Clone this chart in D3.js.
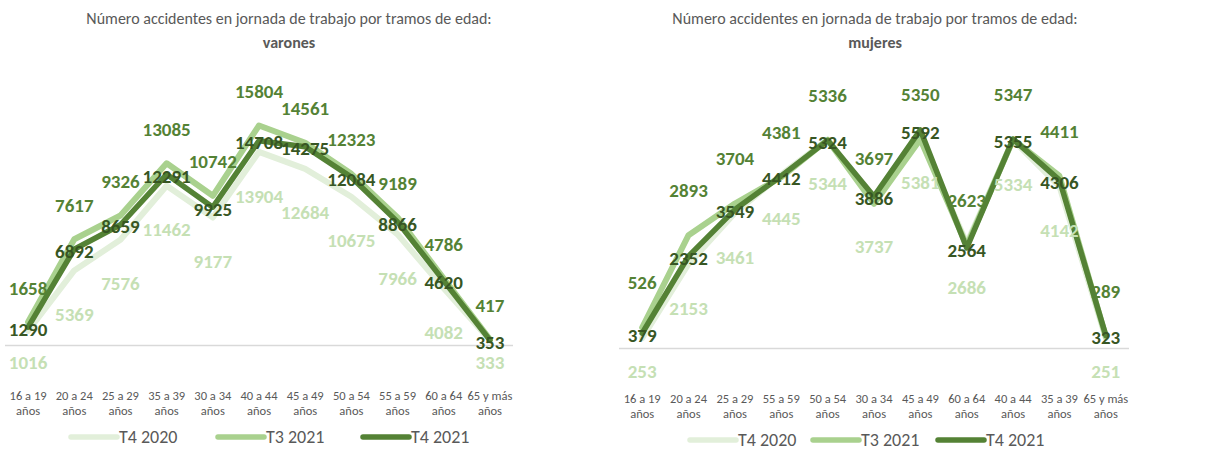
<!DOCTYPE html>
<html>
<head>
<meta charset="utf-8">
<script src="https://cdn.jsdelivr.net/npm/d3@7"></script>
<style>
  html, body { margin: 0; padding: 0; background: #ffffff; }
  svg { display: block; }
  text { font-family: Carlito, Calibri, Lato, "Noto Sans", sans-serif; }
</style>
</head>
<body>
<svg id="chart" width="1219" height="450"></svg>
<script>
// Series names
const seriesNames = ["T4 2020", "T3 2021", "T4 2021"];

// Men: age groups and accident counts
const categoriesVarones = ["16 a 19 años", "20 a 24 años", "25 a 29 años", "35 a 39 años", "30 a 34 años",
  "40 a 44 años", "45 a 49 años", "50 a 54 años", "55 a 59 años", "60 a 64 años", "65 y más años"];
const varonesT4_2020 = [1016, 5369, 7576, 11462, 9177, 13904, 12684, 10675, 7966, 4082, 333];
const varonesT3_2021 = [1658, 7617, 9326, 13085, 10742, 15804, 14561, 12323, 9189, 4786, 417];
const varonesT4_2021 = [1290, 6892, 8659, 12291, 9925, 14708, 14275, 12084, 8866, 4620, 353];

// Women: age groups and accident counts
const categoriesMujeres = ["16 a 19 años", "20 a 24 años", "25 a 29 años", "55 a 59 años", "50 a 54 años",
  "30 a 34 años", "45 a 49 años", "60 a 64 años", "40 a 44 años", "35 a 39 años", "65 y más años"];
const mujeresT4_2020 = [253, 2153, 3461, 4445, 5344, 3737, 5381, 2686, 5334, 4142, 251];
const mujeresT3_2021 = [526, 2893, 3704, 4381, 5336, 3697, 5350, 2623, 5347, 4411, 289];
const mujeresT4_2021 = [379, 2352, 3549, 4412, 5324, 3886, 5592, 2564, 5355, 4306, 323];

// Per-series styling: line colour, width, label colour and label placement
const seriesStyle = [
  { line: "#e2efda", width: 6,   label: "#c5e0b4", place: "below" },
  { line: "#a9d18e", width: 6,   label: "#548235", place: "above" },
  { line: "#548235", width: 5.5, label: "#375623", place: "center" }
];

const svg = d3.select("#chart");

function drawChart(cfg) {
  const g = svg.append("g");
  const x = d3.scaleBand().domain(cfg.categories).range([cfg.x0, cfg.x1]).padding(0);
  const y = d3.scaleLinear().domain([0, cfg.yMax]).range([cfg.y0, cfg.yTop]);
  const cx = c => x(c) + x.bandwidth() / 2;

  // Title
  g.append("text").attr("x", cfg.titleX).attr("y", 24).attr("text-anchor", "middle")
    .attr("font-size", 16).attr("fill", "#595959")
    .text("Número accidentes en jornada de trabajo por tramos de edad:");
  g.append("text").attr("x", cfg.titleX).attr("y", 48).attr("text-anchor", "middle")
    .attr("font-size", 16).attr("font-weight", "bold").attr("fill", "#595959")
    .text(cfg.subtitle);

  // Category axis line
  g.append("line").attr("x1", cfg.x0).attr("x2", cfg.x1)
    .attr("y1", cfg.y0 + 0.5).attr("y2", cfg.y0 + 0.5)
    .attr("stroke", "#d9d9d9").attr("stroke-width", 1.5);

  // Category labels (two lines each)
  const axis = d3.axisBottom(x).tickSize(0).tickPadding(0);
  const ax = g.append("g").attr("transform", `translate(0,${cfg.tickY})`).call(axis);
  ax.select(".domain").remove();
  ax.selectAll(".tick text").each(function (d) {
    const t = d3.select(this);
    const parts = d.split(" ");
    const last = parts.pop();
    t.text(null).attr("fill", "#595959").attr("font-size", 12.5).attr("dy", 0);
    t.append("tspan").attr("x", 0).attr("dy", 0).text(parts.join(" "));
    t.append("tspan").attr("x", 0).attr("dy", 15).text(last);
  });

  // Lines
  const line = d3.line().x((d, i) => cx(cfg.categories[i])).y(d => y(d));
  cfg.series.forEach((vals, s) => {
    g.append("path").datum(vals).attr("d", line)
      .attr("fill", "none").attr("stroke", seriesStyle[s].line)
      .attr("stroke-width", seriesStyle[s].width)
      .attr("stroke-linejoin", "round").attr("stroke-linecap", "round");
  });

  // Data labels
  cfg.series.forEach((vals, s) => {
    const st = seriesStyle[s];
    g.append("g").selectAll("text").data(vals).join("text")
      .attr("x", (d, i) => cx(cfg.categories[i]))
      .attr("y", d => {
        const py = y(d);
        if (st.place === "above") return py - cfg.aboveOff;
        if (st.place === "below") return Math.min(py + cfg.belowOff, cfg.belowMax);
        return py + 2;
      })
      .attr("dy", "0.35em")
      .attr("text-anchor", "middle")
      .attr("font-size", 19).attr("font-weight", "bold")
      .attr("fill", st.label)
      .text(d => d);
  });

  // Legend
  const leg = g.append("g");
  cfg.legend.forEach((lx, s) => {
    leg.append("line").attr("x1", lx).attr("x2", lx + 46)
      .attr("y1", cfg.legendY).attr("y2", cfg.legendY)
      .attr("stroke", seriesStyle[s].line).attr("stroke-width", 5.5)
      .attr("stroke-linecap", "round");
    leg.append("text").attr("x", lx + 48).attr("y", cfg.legendY).attr("dy", "0.35em")
      .attr("font-size", 18).attr("fill", "#595959").text(seriesNames[s]);
  });
}

drawChart({
  categories: categoriesVarones,
  series: [varonesT4_2020, varonesT3_2021, varonesT4_2021],
  subtitle: "varones",
  x0: 5, x1: 513, y0: 345, yTop: 95, yMax: 18000,
  titleX: 289, tickY: 400,
  aboveOff: 34, belowOff: 44, belowMax: 362,
  legend: [71, 218, 363], legendY: 437
});

drawChart({
  categories: categoriesMujeres,
  series: [mujeresT4_2020, mujeresT3_2021, mujeresT4_2021],
  subtitle: "mujeres",
  x0: 619, x1: 1129, y0: 348, yTop: 114, yMax: 6000,
  titleX: 875, tickY: 403,
  aboveOff: 45, belowOff: 44, belowMax: 371,
  legend: [690, 813, 938], legendY: 440
});
</script>
</body>
</html>
